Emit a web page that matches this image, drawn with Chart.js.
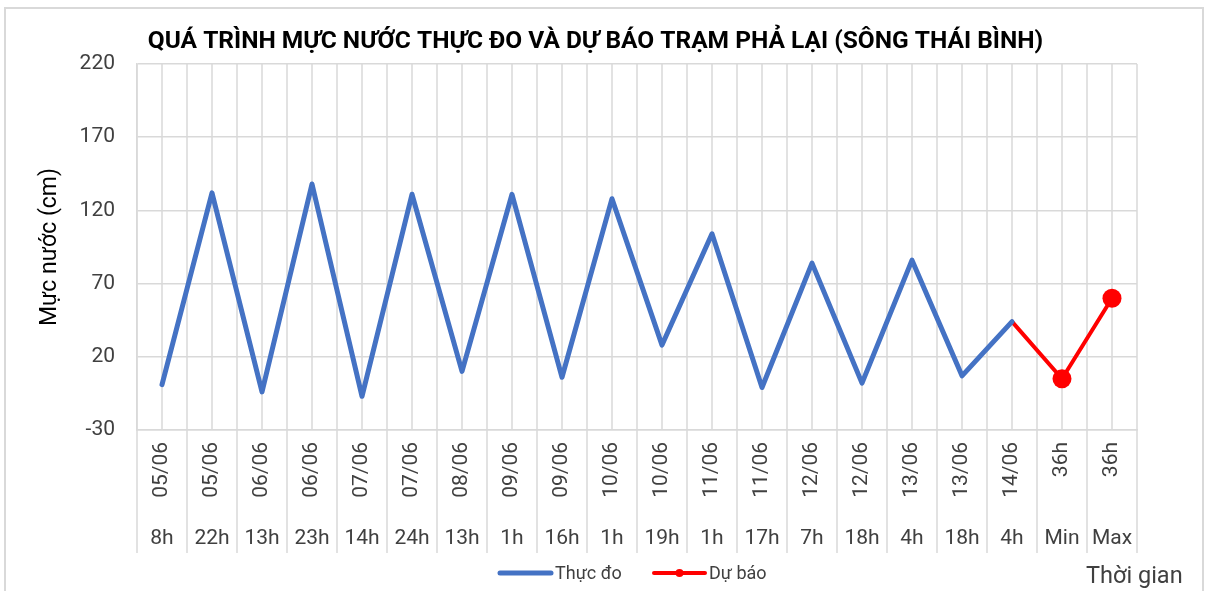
<!DOCTYPE html>
<html lang="vi">
<head>
<meta charset="utf-8">
<title>Mực nước trạm Phả Lại</title>
<script src="https://cdn.jsdelivr.net/npm/chart.js@4.4.1/dist/chart.umd.min.js"></script>
<style>
  html, body { margin: 0; padding: 0; background: #fff; }
  #wrap { width: 1207px; height: 591px; position: relative; }
</style>
</head>
<body>
<div id="wrap"><canvas id="chart" width="1207" height="591"></canvas></div>
<script>
// Data
const dates = ['05/06','05/06','06/06','06/06','07/06','07/06','08/06','09/06','09/06','10/06',
               '10/06','11/06','11/06','12/06','12/06','13/06','13/06','14/06','36h','36h'];
const hours = ['8h','22h','13h','23h','14h','24h','13h','1h','16h','1h',
               '19h','1h','17h','7h','18h','4h','18h','4h','Min','Max'];
const measured = [1,132,-4,138,-7,131,10,131,6,128,28,104,-1,84,2,86,7,44,null,null];
const forecast = [null,null,null,null,null,null,null,null,null,null,
                  null,null,null,null,null,null,null,44,5,60];
const yTicks = [-30,20,70,120,170,220];

const FONT = 'Roboto, "Noto Sans", sans-serif';
const GRID = '#d9d9d9';
const BLUE = '#4472C4';
const RED = '#FF0000';
const TXT = '#404040';

function line(ctx, x1, y1, x2, y2){
  ctx.beginPath(); ctx.moveTo(x1, y1); ctx.lineTo(x2, y2); ctx.stroke();
}

// gridlines between/under categories, two-row category labels, title, legend
const decor = {
  id: 'decor',
  beforeDatasetsDraw(chart){
    const {ctx, chartArea: a, scales: {x}} = chart;
    const half = (x.getPixelForValue(1) - x.getPixelForValue(0)) / 2;
    ctx.save();
    ctx.strokeStyle = GRID;
    ctx.lineWidth = 1.5;
    dates.forEach((d, i) => {
      const cx = x.getPixelForValue(i);
      line(ctx, cx, a.top, cx, a.bottom);
      line(ctx, cx - half, a.top, cx - half, 553);
    });
    line(ctx, a.right, a.top, a.right, 553);
    ctx.restore();
  },
  afterDraw(chart){
    const {ctx, chartArea: a, scales: {x}} = chart;
    ctx.save();
    // category labels
    ctx.fillStyle = TXT;
    ctx.font = '21px ' + FONT;
    dates.forEach((d, i) => {
      const cx = x.getPixelForValue(i);
      ctx.save();
      ctx.translate(cx, a.bottom + 12);
      ctx.rotate(-Math.PI / 2);
      ctx.textAlign = 'right';
      ctx.textBaseline = 'middle';
      ctx.fillText(d, 0, 0);
      ctx.restore();
      ctx.textAlign = 'center';
      ctx.textBaseline = 'alphabetic';
      ctx.fillText(hours[i], cx, 544);
    });

    // title
    const title = 'QUÁ TRÌNH MỰC NƯỚC THỰC ĐO VÀ DỰ BÁO TRẠM PHẢ LẠI (SÔNG THÁI BÌNH)';
    ctx.font = 'bold 20px ' + FONT;
    const size = 20 * 895 / ctx.measureText(title).width;
    ctx.font = 'bold ' + size.toFixed(1) + 'px ' + FONT;
    ctx.fillStyle = '#000';
    ctx.textAlign = 'center';
    ctx.fillText(title, 595.5, 48);

    // x axis title
    ctx.font = '23.5px ' + FONT;
    ctx.fillStyle = TXT;
    ctx.textAlign = 'left';
    ctx.fillText('Thời gian', 1086, 583);

    // legend
    ctx.font = '18px ' + FONT;
    ctx.textBaseline = 'alphabetic';
    ctx.lineCap = 'round';
    ctx.strokeStyle = BLUE; ctx.lineWidth = 5;
    line(ctx, 500, 573, 551, 573);
    ctx.fillText('Thực đo', 555, 579);
    ctx.strokeStyle = RED; ctx.lineWidth = 4;
    line(ctx, 654, 573, 705, 573);
    ctx.fillStyle = RED;
    ctx.beginPath(); ctx.arc(679.5, 573, 4, 0, Math.PI * 2); ctx.fill();
    ctx.fillStyle = TXT;
    ctx.fillText('Dự báo', 709, 579);

    // outer frame
    ctx.strokeStyle = GRID; ctx.lineWidth = 2; ctx.lineCap = 'butt';
    ctx.beginPath();
    ctx.moveTo(5, 591); ctx.lineTo(5, 8); ctx.lineTo(1203, 8); ctx.lineTo(1203, 591);
    ctx.stroke();
    ctx.restore();
  }
};

new Chart(document.getElementById('chart'), {
  type: 'line',
  data: {
    labels: dates.map((d, i) => [d, hours[i]]),
    datasets: [{
      label: 'Thực đo',
      data: measured,
      borderColor: BLUE,
      backgroundColor: BLUE,
      borderWidth: 5,
      pointRadius: 0,
      borderCapStyle: 'round',
      borderJoinStyle: 'round',
      tension: 0
    }, {
      label: 'Dự báo',
      data: forecast,
      borderColor: RED,
      backgroundColor: RED,
      borderWidth: 4,
      pointRadius: forecast.map((v, i) => i === 17 ? 0 : 9.5),
      pointBorderWidth: 0,
      borderCapStyle: 'round',
      borderJoinStyle: 'round',
      tension: 0
    }]
  },
  options: {
    responsive: false,
    animation: false,
    events: [],
    layout: { padding: { left: 0, right: 70, top: 64, bottom: 0 } },
    plugins: {
      legend: { display: false },
      title: { display: false },
      tooltip: { enabled: false }
    },
    scales: {
      x: {
        type: 'category',
        offset: true,
        grid: { display: false },
        border: { display: true, color: GRID, width: 1.5 },
        ticks: { display: false },
        afterFit(scale){ scale.height = 161; }
      },
      y: {
        min: yTicks[0],
        max: yTicks[yTicks.length - 1],
        afterBuildTicks(scale){ scale.ticks = yTicks.map(v => ({ value: v })); },
        grid: { color: GRID, lineWidth: 1.5, drawTicks: false },
        border: { display: true, color: GRID, width: 1.5 },
        ticks: { padding: 22, color: TXT, font: { family: FONT, size: 21 } },
        title: {
          display: true,
          text: 'Mực nước (cm)',
          color: '#000',
          font: { family: FONT, size: 23 },
          padding: { top: 36, bottom: 0 }
        },
        afterFit(scale){ scale.width = 137; }
      }
    }
  },
  plugins: [decor]
});
</script>
</body>
</html>
